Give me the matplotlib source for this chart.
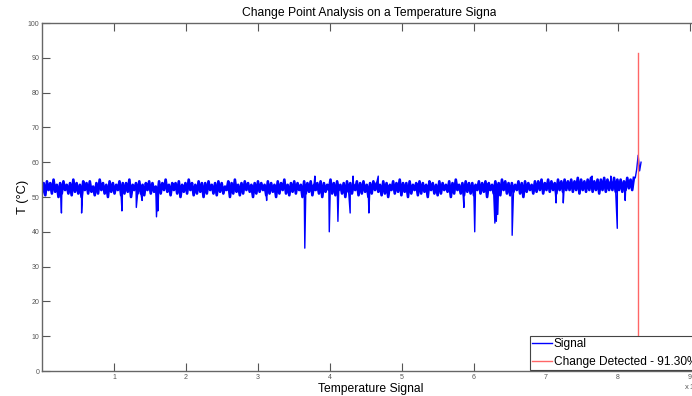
import numpy as np
import matplotlib as mpl
mpl.use('Agg')
import matplotlib.pyplot as plt
from matplotlib.transforms import Bbox

mpl.rcParams['font.family'] = ['Liberation Sans', 'DejaVu Sans']

# band of the signal (deg C), read left to right up to ~8.22e4 samples
band = [
    51, 54, 50.5, 54.5, 52, 54, 51, 55, 51.5, 53.5, 50, 54, 51, 54.5, 52, 53.5, 51, 54, 50.5, 55,
    51.5, 54, 51, 53.5, 50, 54.5, 52, 54, 51, 54.5, 51.5, 53, 50.5, 54, 51, 55, 52, 54, 51, 53.5,
    50, 54.5, 51.5, 54, 51, 53.5, 52, 54.5, 50.5, 54, 51, 54, 51.5, 55, 50, 53.5, 52, 54, 51, 54.5,
    51, 53.5, 50.5, 54, 52, 54.5, 51, 54, 51.5, 53, 50, 54.5, 51, 54, 52, 55, 51.5, 53.5, 50.5, 54,
    52, 54, 51, 54.5, 50, 53.5, 51.5, 54, 51, 55, 52, 54, 50.5, 53.5, 51, 54.5, 51.5, 54, 50, 54,
    51, 54.5, 52, 53.5, 51, 54, 50.5, 54.5, 51.5, 54, 51, 53, 52, 54.5, 50, 54, 51, 55, 51.5, 53.5,
    50.5, 54, 51, 54.5, 52, 54, 51.5, 53.5, 50, 54, 51, 54.5, 51.5, 54, 52, 53.5, 50.5, 54.5, 51, 54,
    51.5, 53.5, 50, 54.5, 51, 54, 52, 55, 51, 53.5, 50.5, 54, 51.5, 54.5, 51, 54, 52, 53.5, 50, 54.5,
    51, 54, 51.5, 54.5, 50.5, 53.5, 52, 54, 51, 54.5, 50, 54, 51.5, 53.5, 52, 55, 51, 54, 50.5, 54.5,
    52, 53.5, 51, 54, 50, 54.5, 51.5, 54, 51, 53.5, 52, 54.5, 50.5, 54, 51, 54.5, 51.5, 53.5, 50, 54,
    51, 54.5, 52, 54, 51.5, 53.5, 50.5, 54.5, 51, 54, 50, 53.5, 52, 54.5, 51, 54, 51.5, 55, 50.5, 54,
    51.5, 54, 50, 54.5, 51, 53.5, 52, 54, 50.5, 54.5, 51, 54, 51.5, 53.5, 50, 54.5, 52, 54, 51, 53.5,
    50.5, 54.5, 51, 54, 52, 53.5, 51.5, 54.5, 50, 54, 51, 55, 52, 53.5, 51, 54, 50.5, 54.5, 51.5, 54,
    51, 54, 50.5, 53.5, 52, 54.5, 51, 54, 51.5, 54.5, 50, 54, 52, 53.5, 51, 54.5, 51.5, 54, 50.5, 55,
    52, 54.5, 51, 54, 50.5, 54, 51.5, 53.5, 52, 54.5, 51, 54, 50, 54.5, 51.5, 54, 52, 53.5, 51, 54.5,
    51.5, 54.5, 52, 55, 51, 54, 52, 55, 51.5, 54.5, 52, 54, 51, 55, 52, 54.5, 51.5, 55, 52, 54.5,
    52, 55, 51.5, 54.5, 52, 55.5, 51, 55, 52, 54.5, 51.5, 55, 52, 55.5, 51.5, 54.5, 52, 55, 51, 55,
    52, 55.5, 51.5, 55, 52, 54.5, 52, 55.5, 51.5, 55, 52, 55, 51.5, 54.5, 52, 55.5, 52.5, 55, 52, 55.5,
]
band_end = 8.22e4

# excursions (spikes and bumps): sample (x1e4), value
exc_x = [0.27, 0.55, 1.11, 1.31, 1.39, 1.59, 1.61, 3.12, 3.65, 3.79, 3.99, 4.11, 4.28, 4.32,
         4.54, 4.67, 5.86, 6.01, 6.29, 6.31, 6.33, 6.53, 7.14, 7.24, 7.64, 7.90, 7.99, 8.10]
exc_y = [45.4, 45.4, 46, 47, 49, 44.3, 46, 49, 35.3, 56, 40, 43, 45.4, 56,
         45.4, 56, 47, 40, 42.5, 43, 45, 39, 48.3, 48.3, 56, 56, 41, 49]

# final rise just before the detected change
end_x = [8.24e4, 8.26e4, 8.28e4, 8.30e4, 8.32e4]
end_y = [55.5, 58, 62, 57.5, 60]

change_x = 8.28e4
change_top = 91.3
change_label = 'Change Detected - 91.30%'

xticks = [1, 2, 3, 4, 5, 6, 7, 8, 9]
yticks = [0, 10, 20, 30, 40, 50, 60, 70, 80, 90, 100]

# merge everything into one ordered series
bx = np.linspace(0, band_end, len(band))
sx = np.concatenate([bx, np.array(exc_x) * 1e4, end_x])
sy = np.concatenate([band, exc_y, end_y])
order = np.argsort(sx, kind='stable')
sx, sy = sx[order], sy[order]

fig = plt.figure(figsize=(6.92, 3.96), dpi=100)
# axes runs a little past the right edge of the picture, as in the original
ax = fig.add_axes([42 / 692., 25 / 396., 658 / 692., 348 / 396.])

ax.plot(sx, sy, color='#0000ff', lw=1.0, label='Signal')
# thicker pass over the dense band so it reads as a solid strip
ax.plot(bx, band, color='#0000ff', lw=1.9)
ax.plot([change_x, change_x], [0, change_top], color='#ff6666', lw=1.0, label=change_label)

ax.set_xlim(0, 658 / 72. * 1e4)
ax.set_ylim(0, 100)
ax.set_xticks([t * 1e4 for t in xticks])
ax.set_xticklabels([str(t) for t in xticks])
ax.set_yticks(yticks)
ax.tick_params(direction='in', length=6, width=0.8, colors='#555555', labelsize=5,
               top=True, right=True, pad=2)
for s in ax.spines.values():
    s.set_color('#666666')
    s.set_linewidth(1.0)

ax.set_xlabel('Temperature Signal', fontsize=8.7, labelpad=1.5)
ax.set_ylabel('T (\u00b0C)', fontsize=9.3, labelpad=-1)
t = ax.set_title('Change Point Analysis on a Temperature Signal', fontsize=8.7, pad=5)
t.set_clip_box(Bbox.from_extents(0, 0, 496, 396))
t.set_clip_on(True)

fig.text(684 / 692., 1 - 386 / 396., 'x 10$^4$', fontsize=5.5, color='#555555', va='center')

leg = ax.legend(loc='lower right', fontsize=8.6, fancybox=False, framealpha=1,
                edgecolor='#444444', borderaxespad=0.1, handlelength=1.65,
                handletextpad=0.15, borderpad=0.15, labelspacing=0.5)
leg.get_frame().set_linewidth(0.8)
for h in leg.get_lines():
    h.set_linewidth(1.0)

fig.savefig('out.png', dpi=100)
